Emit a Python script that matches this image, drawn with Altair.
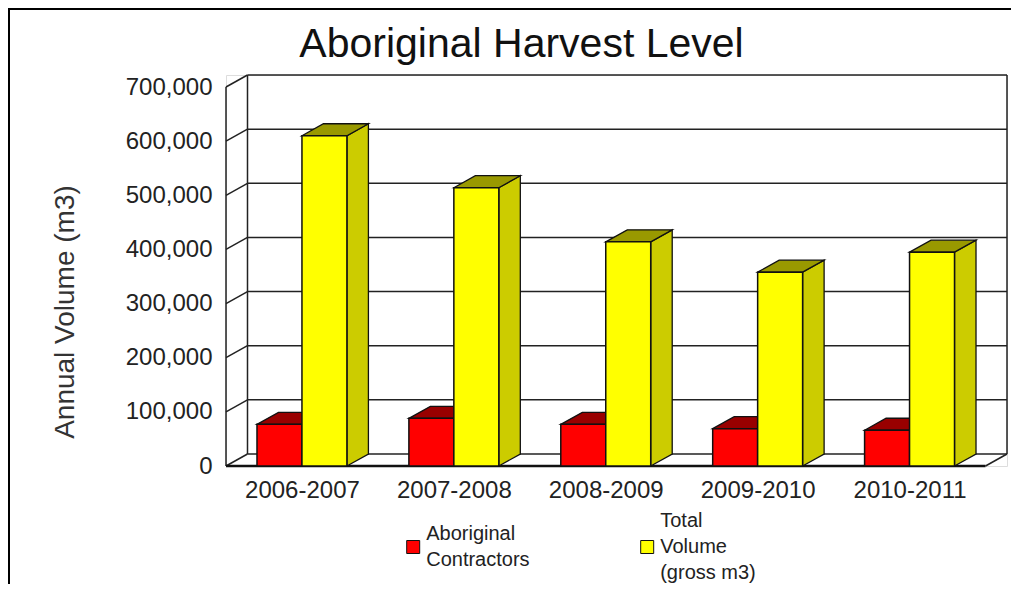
import json
import altair as alt
import pandas as pd

# ---------------- data ----------------
categories = ["2006-2007", "2007-2008", "2008-2009", "2009-2010", "2010-2011"]
aboriginal = [77000, 88000, 77000, 69000, 66000]
total = [610000, 514000, 414000, 358000, 395000]
series_names = ["Aboriginal\nContractors", "Total\nVolume\n(gross m3)"]
y_ticks = [0, 100000, 200000, 300000, 400000, 500000, 600000, 700000]

# ---------------- styles ----------------
W, H = 781, 391
PAD_L, PAD_T, PAD_R, PAD_B = 218, 67, 4, 118
DEPTH_XPX, DEPTH_YPX = 21.5, 12
FONT = "Liberation Sans"
front_colors = ["#FF0000", "#FFFF00"]
top_colors = ["#990000", "#999900"]
side_colors = ["#CC0000", "#CCCC00"]
BAR_W = 0.296  # bar width in category units
HALF_LINE = 13  # legend half line height
SYMBOL_SIZE = 169
# square symbol drawn 4 half-units (= 26 px) below the label anchor
SYMBOL_PATH = "M-1,3L1,3L1,5L-1,5Z"
BLANK = "\u200b"  # zero-width spacer line

N = len(categories)
y_top_tick = y_ticks[-1]
unit_px = (W - DEPTH_XPX) / N
DX = DEPTH_XPX / unit_px
DY = DEPTH_YPX / (H - DEPTH_YPX) * y_top_tick

x_scale = alt.Scale(domain=[0, N + DX], nice=False, zero=False)
y_scale = alt.Scale(domain=[0, y_top_tick + DY], nice=False, zero=False)

x_axis = alt.Axis(
    values=[i + 0.5 for i in range(N)],
    labelExpr=f"{json.dumps(categories)}[floor(datum.value)]",
    labelFontSize=24, labelFont=FONT, labelColor="#222",
    ticks=False, domain=False, grid=False, title=None,
    labelPadding=12, labelFlush=False, labelOverlap=False,
)
y_axis = alt.Axis(
    values=y_ticks, format=",.0f",
    labelFontSize=24, labelFont=FONT, labelColor="#222",
    ticks=False, domain=False, grid=False, labelPadding=14,
    title="Annual Volume (m3)", titleFont=FONT, titleFontSize=28,
    titleFontWeight="normal", titleColor="#333",
    titleX=-160.5, titleY=236.5, titleAngle=270,
    titleAlign="center", titleBaseline="middle",
)


def X(f="x"):
    return alt.X(f + ":Q", scale=x_scale, axis=x_axis)


def Y(f="y"):
    return alt.Y(f + ":Q", scale=y_scale, axis=y_axis, stack=None)


# ---------------- frame (walls, grid, floor) ----------------
wall_rows = []
for t in y_ticks:
    wall_rows.append(dict(x=DX, x2=N + DX, y=t + DY, y2=t + DY))   # back grid
    wall_rows.append(dict(x=0, x2=DX, y=t, y2=t + DY))             # left wall diagonals
wall_rows.append(dict(x=DX, x2=DX, y=DY, y2=y_top_tick + DY))
wall_rows.append(dict(x=N + DX, x2=N + DX, y=DY, y2=y_top_tick + DY))
wall_rows.append(dict(x=0, x2=0, y=0, y2=y_top_tick))
wall_rows.append(dict(x=N, x2=N + DX, y=0, y2=DY))
walls = pd.DataFrame(wall_rows)

wall_layer = alt.Chart(walls).mark_rule(color="#222", strokeWidth=1.5).encode(
    x=X(), x2="x2:Q", y=Y(), y2="y2:Q"
)
floor_layer = alt.Chart(pd.DataFrame([dict(x=0, x2=N, y=0)])).mark_rule(
    color="#111", strokeWidth=2.5
).encode(x=X(), x2="x2:Q", y=Y())

# ---------------- bars ----------------
series_values = [aboriginal, total]
front_rows, layers = [], []
for s, vals in enumerate(series_values):
    top_rows, side_rows = [], []
    for i, v in enumerate(vals):
        x0 = i + 0.5 - BAR_W + s * BAR_W
        x1 = x0 + BAR_W
        front_rows.append(dict(x=x0, x2=x1, y=v, y2=0, series=series_names[s]))
        top_rows += [
            dict(id=i, x=x0, y=v, y2=v),
            dict(id=i, x=x0 + DX, y=v + DY, y2=v),
            dict(id=i, x=x1, y=v + DY, y2=v),
            dict(id=i, x=x1 + DX, y=v + DY, y2=v + DY),
        ]
        side_rows += [
            dict(id=i, x=x1, y=v, y2=0),
            dict(id=i, x=x1 + DX, y=v + DY, y2=DY),
        ]
    layers.append(
        alt.Chart(pd.DataFrame(side_rows)).mark_area(
            fill=side_colors[s], stroke="#111", strokeWidth=1.3, opacity=1,
            interpolate="linear",
        ).encode(x=X(), y=Y(), y2="y2:Q", detail="id:N")
    )
    layers.append(
        alt.Chart(pd.DataFrame(top_rows)).mark_area(
            fill=top_colors[s], stroke="#111", strokeWidth=1.3, opacity=1,
            interpolate="linear",
        ).encode(x=X(), y=Y(), y2="y2:Q", detail="id:N")
    )

SPL = "split(datum.label, '\\n')"
label_expr = (
    f"length({SPL}) == 2 ? "
    f"['{BLANK}', {SPL}[0], '{BLANK}', {SPL}[1], '{BLANK}'] : "
    f"[{SPL}[0], '{BLANK}', {SPL}[1], '{BLANK}', {SPL}[2]]"
)

front_layer = alt.Chart(pd.DataFrame(front_rows)).mark_bar(
    stroke="#111", strokeWidth=1.5, opacity=1
).encode(
    x=X(), x2="x2:Q", y=Y(), y2="y2:Q",
    color=alt.Color(
        "series:N",
        scale=alt.Scale(domain=series_names, range=front_colors),
        sort=series_names,
        legend=alt.Legend(
            title=None, orient="none", legendX=177.2, legendY=436,
            direction="horizontal", columns=2, columnPadding=107,
            symbolType=SYMBOL_PATH, symbolSize=SYMBOL_SIZE, symbolStrokeColor="#111",
            symbolStrokeWidth=1, symbolOpacity=1,
            labelFontSize=20, labelFont=FONT, labelColor="#222",
            labelOffset=3, labelLimit=0, padding=0,
            labelExpr=label_expr,
        ),
    ),
)

# ---------------- outer frame ----------------
border_top = alt.Chart(pd.DataFrame({"k": [0]})).mark_rule(color="black", strokeWidth=2).encode(
    x=alt.value(-PAD_L + 1), x2=alt.value(W + PAD_R), y=alt.value(-PAD_T + 1)
)
border_left = alt.Chart(pd.DataFrame({"k": [0]})).mark_rule(color="black", strokeWidth=2).encode(
    x=alt.value(-PAD_L + 1), y=alt.value(-PAD_T), y2=alt.value(H + PAD_B)
)

chart = alt.layer(
    border_top, border_left, wall_layer, floor_layer, *layers, front_layer
).properties(
    width=W, height=H,
    padding={"left": PAD_L, "top": PAD_T, "right": PAD_R, "bottom": PAD_B},
    autosize=alt.AutoSizeParams(type="none"),
    title=alt.TitleParams(
        "Aboriginal Harvest Level", font=FONT, fontSize=41, fontWeight="normal",
        color="#111", anchor="middle", frame="group", offset=0,
        baseline="alphabetic", dx=-95, dy=91,
    ),
).configure_view(stroke=None).configure(
    background="white", style={"guide-label": {"lineHeight": HALF_LINE}}
)

chart.save("out.html", embed_options={"renderer": "svg", "actions": False})
